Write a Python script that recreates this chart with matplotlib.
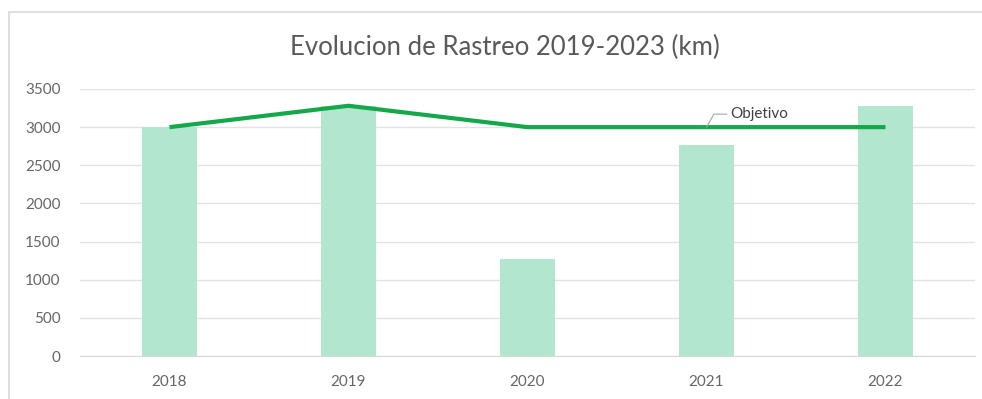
import matplotlib.pyplot as plt
import matplotlib.patches as patches
import numpy as np

# data
years = ['2018', '2019', '2020', '2021', '2022']
rastreo = [3000, 3280, 1270, 2770, 3280]
objetivo = [3000, 3280, 3000, 3000, 3000]

plt.rcParams['font.family'] = ['Lato', 'DejaVu Sans']

fig = plt.figure(figsize=(9.82, 3.99), dpi=100)
ax = fig.add_axes([80/982, 1-356/399, 895/982, 267/399])

# chart border
fig.patches.append(patches.Rectangle((9/982, -0.01), 1.0, 1-12/399+0.01,
                                     transform=fig.transFigure, fill=False,
                                     edgecolor='#d9d9d9', lw=1.2))

x = np.arange(len(years))
ax.bar(x, rastreo, width=0.31, color='#b3e6cf', zorder=2)
ax.plot(x, objetivo, color='#14a84a', lw=3, zorder=3, solid_capstyle='butt')

ax.set_xlim(-0.5, len(years)-0.5)
ax.set_ylim(0, 3500)
ax.set_yticks(range(0, 3501, 500))
ax.set_xticks(x)
ax.set_xticklabels(years)
ax.grid(axis='y', color='#e3e3e3', lw=1, zorder=0)
for s in ['top', 'right', 'left']:
    ax.spines[s].set_visible(False)
ax.spines['bottom'].set_color('#d9d9d9')
ax.tick_params(length=0, colors='#666666', labelsize=11)
ax.tick_params(axis='x', pad=14)
ax.tick_params(axis='y', pad=14)

# label for the target line
ax.annotate('Objetivo', xy=(3.0, objetivo[3]), xytext=(3.13, 3170),
            fontsize=11, color='#404040', va='center', ha='left',
            arrowprops=dict(arrowstyle='-', color='#a6a6a6', lw=0.8,
                            connectionstyle='angle,angleA=0,angleB=60,rad=0',
                            shrinkA=0, shrinkB=0))

fig.text(505/982, 1-47/399, 'Evolucion de Rastreo 2019-2023 (km)',
         ha='center', va='center', fontsize=18.5, color='#595959')

fig.savefig('out.png', dpi=100)
